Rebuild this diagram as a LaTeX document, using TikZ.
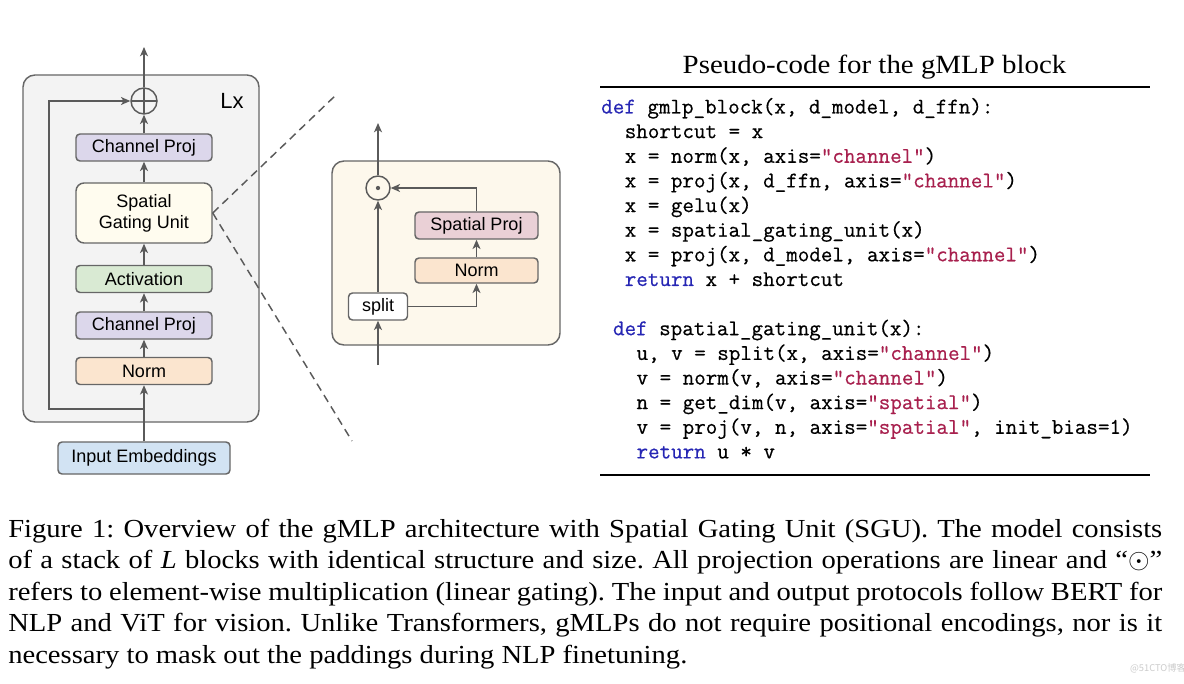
\documentclass[tikz,border=0pt]{standalone}
\usepackage{fontspec}
\usepackage{xcolor}
\usetikzlibrary{arrows.meta}
\newfontfamily\dsans{Liberation Sans}
\newfontfamily\capfont[FakeStretch=1.1]{Liberation Serif}
\newfontfamily\cjkfont{Noto Sans CJK SC}
\newfontfamily\codefont[FakeBold=0.5]{Latin Modern Mono}
\definecolor{lc}{HTML}{5A5A5A}
\definecolor{bc}{HTML}{666666}
\definecolor{outerfill}{HTML}{F3F3F3}
\definecolor{detfill}{HTML}{FDF8EC}
\definecolor{cpfill}{HTML}{DCD7EB}
\definecolor{sgufill}{HTML}{FFFCEF}
\definecolor{actfill}{HTML}{D9EAD3}
\definecolor{normfill}{HTML}{FBE5CF}
\definecolor{inpfill}{HTML}{D2E3F3}
\definecolor{spfill}{HTML}{EAD0D6}
\definecolor{kwblue}{HTML}{2626B4}
\definecolor{strred}{HTML}{A8204E}
\newcommand\cdkw[1]{\textcolor{kwblue}{#1}}
\newcommand\cdstr[1]{\textcolor{strred}{#1}}
\frenchspacing
\begin{document}
\begin{tikzpicture}[x=0.75pt,y=-0.75pt,
  blk/.style={draw=bc, line width=1.1pt, rounded corners=3pt, minimum width=102pt,
    minimum height=20.25pt, inner sep=0pt, align=center,
    font=\dsans\fontsize{13.5}{15.75}\selectfont},
  arr/.style={draw=lc, line width=1.1pt, -{Stealth[length=7pt,width=6pt,inset=2pt]}},
  ln/.style={draw=lc, line width=1.1pt},
  dsh/.style={draw=lc, line width=1.1pt, dash pattern=on 6pt off 4pt},
  capline/.style={anchor=base west, inner sep=0pt, font=\capfont\fontsize{19.5}{23}\selectfont},
  code/.style={anchor=base west, inner sep=0pt, font=\codefont\fontsize{16.8}{18}\selectfont},
  opnode/.style={circle, draw=lc, line width=1.1pt, inner sep=0pt}
]
\fill[white] (0,0) rectangle (1184,684);
\useasboundingbox (0,0) rectangle (1184,684);

% ---------------- left: gMLP block ----------------
\draw[draw=bc, line width=1.1pt, fill=outerfill, rounded corners=9pt] (23,75) rectangle (259,422);
\node[font=\dsans\fontsize{16.5}{18}\selectfont, inner sep=0pt] (lx) at (232,101) {Lx};

\node[blk, fill=cpfill] (cp2) at (144,147.5) {Channel Proj};
\node[blk, fill=sgufill, minimum height=45pt, rounded corners=6pt] (sgu) at (144,213) {Spatial\\Gating Unit};
\node[blk, fill=actfill] (act) at (144,279) {Activation};
\node[blk, fill=cpfill] (cp1) at (144,325.5) {Channel Proj};
\node[blk, fill=normfill] (norm) at (144,371) {Norm};
\node[blk, fill=inpfill, minimum width=129pt, minimum height=24pt] (inp) at (144,458) {Input Embeddings};
\node[opnode, minimum size=19.5pt,
  path picture={\draw[lc, line width=1.1pt] (path picture bounding box.north) -- (path picture bounding box.south)
    (path picture bounding box.west) -- (path picture bounding box.east);}] (oplus) at (144,101) {};
\coordinate (out1) at (144,47);
\coordinate (rs) at (144,409);
\coordinate (rl) at (49,409);
\coordinate (rt) at (49,101);

\draw[arr] (inp.north) -- (norm.south);
\draw[arr] (norm.north) -- (cp1.south);
\draw[arr] (cp1.north) -- (act.south);
\draw[arr] (act.north) -- (sgu.south);
\draw[arr] (sgu.north) -- (cp2.south);
\draw[arr] (cp2.north) -- (oplus.south);
\draw[arr] (oplus.north) -- (out1);
\draw[arr] (rs) -- (rl) -- (rt) -- (oplus.west);

% ---------------- dashed zoom lines ----------------
\coordinate (dz1) at (337,94);
\coordinate (dz2) at (352,441);
\draw[dsh] (sgu.east) -- (dz1);
\draw[dsh] (sgu.east) -- (dz2);

% ---------------- middle: SGU detail ----------------
\draw[draw=bc, line width=1.1pt, fill=detfill, rounded corners=9pt] (332,161) rectangle (560,345);
\node[opnode, minimum size=18pt] (odot) at (378,188) {};
\fill[lc] (odot.center) circle (1.6pt);
\node[blk, fill=white, minimum width=44.25pt] (split) at (378,306.5) {split};
\node[blk, fill=normfill, minimum width=92.25pt, minimum height=18.75pt] (dnorm) at (476.5,270.5) {Norm};
\node[blk, fill=spfill, minimum width=92.25pt] (sproj) at (476.5,225.5) {Spatial Proj};
\coordinate (in2) at (378,365);
\coordinate (out2) at (378,123);

\draw[arr] (in2) -- (split.south);
\draw[arr] (split.north) -- (odot.south);
\draw[arr] (odot.north) -- (out2);
\draw[arr] (split.east) -| (dnorm.south);
\draw[arr] (dnorm.north) -- (sproj.south);
\draw[arr] (sproj.north) |- (odot.east);

% ---------------- right: pseudo-code ----------------
\node[anchor=base, inner sep=0pt, font=\capfont\fontsize{19.7}{23}\selectfont] (title) at (874.5,74) {Pseudo-code for the gMLP block};
\coordinate (r1a) at (600,87);
\coordinate (r1b) at (1150,87);
\coordinate (r2a) at (600,475);
\coordinate (r2b) at (1150,475);
\draw[line width=1pt] (r1a) -- (r1b);
\draw[line width=1pt] (r2a) -- (r2b);

\node[code] (c0) at (601,113.5) {\cdkw{def} gmlp\_block(x, d\_model, d\_ffn):};
\node[code] (c1) at (624.5,138.1) {shortcut = x};
\node[code] (c2) at (624.5,162.8) {x = norm(x, axis=\cdstr{"channel"})};
\node[code] (c3) at (624.5,187.4) {x = proj(x, d\_ffn, axis=\cdstr{"channel"})};
\node[code] (c4) at (624.5,212.1) {x = gelu(x)};
\node[code] (c5) at (624.5,236.7) {x = spatial\_gating\_unit(x)};
\node[code] (c6) at (624.5,261.3) {x = proj(x, d\_model, axis=\cdstr{"channel"})};
\node[code] (c7) at (624.5,286.0) {\cdkw{return} x + shortcut};
\node[code] (c9) at (612.8,335.2) {\cdkw{def} spatial\_gating\_unit(x):};
\node[code] (c10) at (636.3,359.9) {u, v = split(x, axis=\cdstr{"channel"})};
\node[code] (c11) at (636.3,384.5) {v = norm(v, axis=\cdstr{"channel"})};
\node[code] (c12) at (636.3,409.1) {n = get\_dim(v, axis=\cdstr{"spatial"})};
\node[code] (c13) at (636.3,433.8) {v = proj(v, n, axis=\cdstr{"spatial"}, init\_bias=1)};
\node[code] (c14) at (636.3,458.4) {\cdkw{return} u * v};

% ---------------- caption ----------------
\node[capline] (l1) at (8,537) {\makebox[865.5pt][s]{Figure 1: Overview of the gMLP architecture with Spatial Gating Unit (SGU). The model consists}};
\node[capline] (l2) at (8,568.5) {\makebox[865.5pt][s]{of a stack of \textit{L} blocks with identical structure and size. All projection operations are linear and “$\odot$”}};
\node[capline] (l3) at (8,600) {\makebox[865.5pt][s]{refers to element-wise multiplication (linear gating). The input and output protocols follow BERT for}};
\node[capline] (l4) at (8,631.5) {\makebox[865.5pt][s]{NLP and ViT for vision. Unlike Transformers, gMLPs do not require positional encodings, nor is it}};
\node[capline] (l5) at (8,663) {necessary to mask out the paddings during NLP finetuning.};

\node[font=\cjkfont\fontsize{7}{8}\selectfont, text=black!20, inner sep=0pt] (wm) at (1158,668) {@51CTO博客};
\end{tikzpicture}
\end{document}
